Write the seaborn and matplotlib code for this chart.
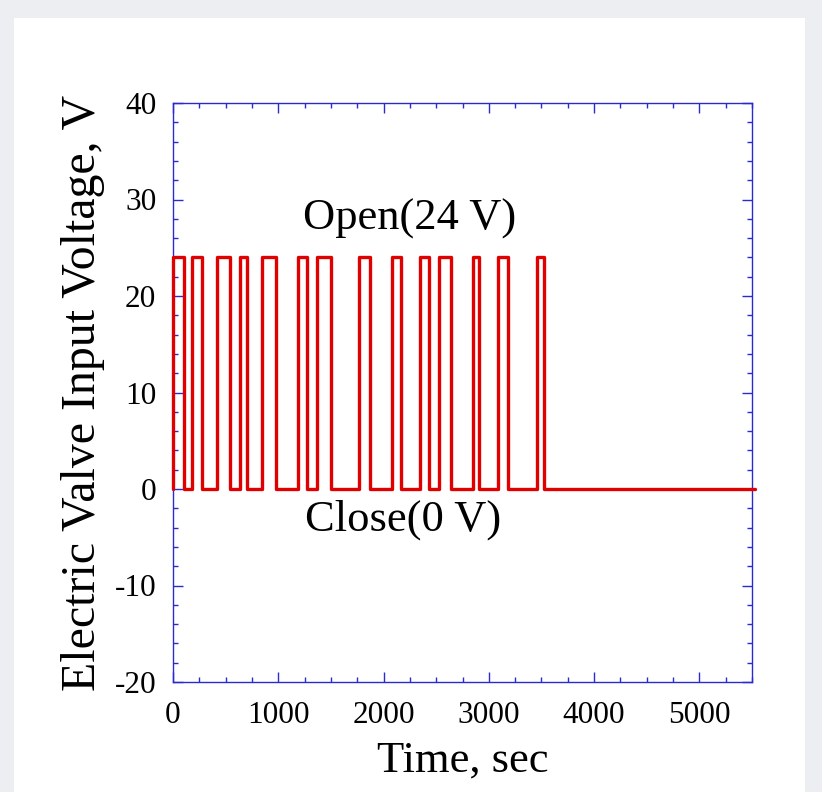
import matplotlib
matplotlib.use("Agg")
import matplotlib.pyplot as plt
from matplotlib.patches import Rectangle
from matplotlib.ticker import MultipleLocator
import seaborn as sns
import pandas as pd

# Valve open (rise to 24 V) and close (fall to 0 V) times, sec
t_open = [0, 183, 420, 639, 849, 1191, 1368, 1765, 2082, 2346, 2526, 2853, 3088, 3456]
t_close = [100, 278, 538, 702, 982, 1277, 1505, 1870, 2165, 2434, 2643, 2910, 3186, 3525]
v_open = 24
v_close = 0
t_end = 5530

times = [0]
volts = [v_close]
for a, b in zip(t_open, t_close):
    times += [a, b]
    volts += [v_open, v_close]
times.append(t_end)
volts.append(v_close)
df = pd.DataFrame({"Time": times, "Voltage": volts})

sns.set_theme(style="white")
plt.rcParams["font.family"] = ["Liberation Serif", "DejaVu Serif"]
plt.rcParams["axes.unicode_minus"] = False
plt.rcParams["text.color"] = "black"
plt.rcParams["axes.labelcolor"] = "black"

fig = plt.figure(figsize=(8.22, 7.92), dpi=100)
fig.patch.set_facecolor("#eceef1")
fig.patches.append(Rectangle((14 / 822, 0), (805 - 14) / 822, 1 - 18 / 792,
                             transform=fig.transFigure, facecolor="white",
                             edgecolor="none", zorder=-10))
ax = fig.add_axes([173 / 822, 1 - 682 / 792, (752 - 173) / 822, (682 - 103) / 792])
ax.set_zorder(5)
ax.set_facecolor("white")

sns.lineplot(data=df, x="Time", y="Voltage", ax=ax, estimator=None, sort=False,
             drawstyle="steps-post", color="#e00000", linewidth=2.4,
             clip_on=False, zorder=3)

ax.set_xlim(0, 5500)
ax.set_ylim(-20, 40)
ax.set_xticks([0, 1000, 2000, 3000, 4000, 5000])
ax.set_yticks([-20, -10, 0, 10, 20, 30, 40])
ax.xaxis.set_minor_locator(MultipleLocator(250))
ax.yaxis.set_minor_locator(MultipleLocator(2))

blue = "#2a2ad0"
for s in ax.spines.values():
    s.set_color(blue)
    s.set_linewidth(1.0)
    s.set_visible(True)
ax.tick_params(which="both", direction="in", top=True, right=True,
               bottom=True, left=True, color=blue, labelcolor="black")
ax.tick_params(which="major", length=7, width=1.0, labelsize=22.5)
ax.tick_params(axis="x", which="major", pad=14)
ax.tick_params(axis="y", which="major", pad=12)
ax.tick_params(which="minor", length=3.6, width=1.0)

ax.set_xlabel("Time, sec", fontsize=32, va="center")
ax.xaxis.set_label_coords(0.5, -0.136)
ax.set_ylabel("Electric Valve Input Voltage, V", fontsize=34.5, va="center")
ax.yaxis.set_label_coords(-0.155, 0.5)

ax.text(2250, 28, "Open(24 V)", fontsize=32, ha="center", va="center")
ax.text(2190, -3.2, "Close(0 V)", fontsize=32, ha="center", va="center")

fig.savefig("out.png", dpi=100, facecolor=fig.get_facecolor())
